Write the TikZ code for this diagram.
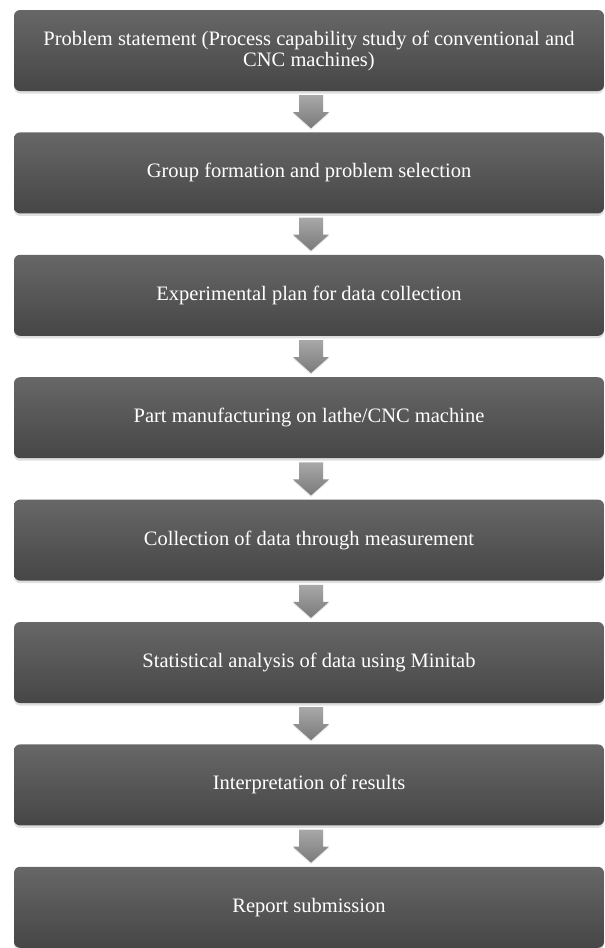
\documentclass[tikz,border=0pt]{standalone}
\usepackage{fontspec}
\setmainfont{Liberation Serif}
\usepackage{tikz}
\usetikzlibrary{positioning, calc, shadows}

\definecolor{boxtop}{HTML}{676767}
\definecolor{boxbottom}{HTML}{464646}
\definecolor{arrowtop}{HTML}{A8A8A8}
\definecolor{arrowbottom}{HTML}{7A7A7A}

\tikzset{
    stepbox/.style={rectangle, rounded corners=6pt, minimum width=590pt, minimum height=81pt,
        top color=boxtop, bottom color=boxbottom, draw=none, text=white, align=center,
        font=\fontsize{20.5}{21}\selectfont,
        drop shadow={opacity=0.25, shadow xshift=0pt, shadow yshift=-2.5pt}},
    blockarrow/.style={draw=none, top color=arrowtop, bottom color=arrowbottom,
        drop shadow={opacity=0.2, shadow xshift=0pt, shadow yshift=-1.5pt}}
}

\begin{document}
\begin{tikzpicture}[node distance=41pt]
        \useasboundingbox (0,0) rectangle (605pt,-948pt);
        \node[stepbox] (1) at (309pt,-50.5pt) {Problem statement (Process capability study of conventional and\\CNC machines)};
        \node[stepbox, below=of 1] (2) {Group formation and problem selection};
        \node[stepbox, below=of 2] (3) {Experimental plan for data collection};
        \node[stepbox, below=of 3] (4) {Part manufacturing on lathe/CNC machine};
        \node[stepbox, below=of 4] (5) {Collection of data through measurement};
        \node[stepbox, below=of 5] (6) {Statistical analysis of data using Minitab};
        \node[stepbox, below=of 6] (7) {Interpretation of results};
        \node[stepbox, below=of 7] (8) {Report submission};
        % block arrows between the steps
        \path[blockarrow] ($(1.south)+(-10pt,-4pt)$) -- ++(24pt,0) -- ++(0,-17pt) -- ++(6pt,0) -- ($(2.north)+(2pt,4pt)$) -- ++(-18pt,16pt) -- ++(6pt,0) -- cycle;
        \path[blockarrow] ($(2.south)+(-10pt,-4pt)$) -- ++(24pt,0) -- ++(0,-17pt) -- ++(6pt,0) -- ($(3.north)+(2pt,4pt)$) -- ++(-18pt,16pt) -- ++(6pt,0) -- cycle;
        \path[blockarrow] ($(3.south)+(-10pt,-4pt)$) -- ++(24pt,0) -- ++(0,-17pt) -- ++(6pt,0) -- ($(4.north)+(2pt,4pt)$) -- ++(-18pt,16pt) -- ++(6pt,0) -- cycle;
        \path[blockarrow] ($(4.south)+(-10pt,-4pt)$) -- ++(24pt,0) -- ++(0,-17pt) -- ++(6pt,0) -- ($(5.north)+(2pt,4pt)$) -- ++(-18pt,16pt) -- ++(6pt,0) -- cycle;
        \path[blockarrow] ($(5.south)+(-10pt,-4pt)$) -- ++(24pt,0) -- ++(0,-17pt) -- ++(6pt,0) -- ($(6.north)+(2pt,4pt)$) -- ++(-18pt,16pt) -- ++(6pt,0) -- cycle;
        \path[blockarrow] ($(6.south)+(-10pt,-4pt)$) -- ++(24pt,0) -- ++(0,-17pt) -- ++(6pt,0) -- ($(7.north)+(2pt,4pt)$) -- ++(-18pt,16pt) -- ++(6pt,0) -- cycle;
        \path[blockarrow] ($(7.south)+(-10pt,-4pt)$) -- ++(24pt,0) -- ++(0,-17pt) -- ++(6pt,0) -- ($(8.north)+(2pt,4pt)$) -- ++(-18pt,16pt) -- ++(6pt,0) -- cycle;
    \end{tikzpicture}
\end{document}
